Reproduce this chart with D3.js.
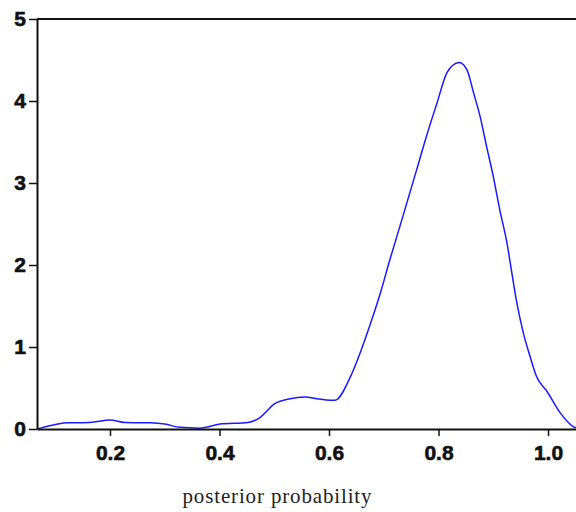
<!DOCTYPE html>
<html>
<head>
<meta charset="utf-8">
<script src="https://cdn.jsdelivr.net/npm/d3@7"></script>
<style>
  html, body { margin: 0; padding: 0; background: #fff; }
  svg { display: block; }
</style>
</head>
<body>
<svg id="chart" width="576" height="512"></svg>
<script>
// density of posterior probability
const probs = [0.0667, 0.09, 0.121, 0.163, 0.2, 0.227, 0.273, 0.3, 0.328, 0.364, 0.401, 0.452,
  0.474, 0.501, 0.529, 0.556, 0.578, 0.602, 0.611, 0.638, 0.657, 0.675, 0.693, 0.711, 0.733,
  0.76, 0.778, 0.797, 0.815, 0.825, 0.838, 0.852, 0.864, 0.876, 0.888, 0.9, 0.912, 0.925,
  0.934, 0.943, 0.955, 0.967, 0.979, 0.998, 1.022, 1.046, 1.06]
const density = [0.0, 0.04, 0.075, 0.08, 0.11, 0.08, 0.075, 0.06, 0.02, 0.01, 0.06, 0.08,
  0.14, 0.31, 0.37, 0.39, 0.37, 0.35, 0.35, 0.62, 0.93, 1.27, 1.64, 2.06, 2.55,
  3.16, 3.57, 3.97, 4.34, 4.43, 4.47, 4.38, 4.1, 3.81, 3.44, 3.08, 2.67, 2.27,
  1.9, 1.54, 1.17, 0.89, 0.64, 0.46, 0.2, 0.03, 0.0]
const xTicks = [0.2, 0.4, 0.6, 0.8, 1.0]
const yTicks = [0, 1, 2, 3, 4, 5]

const data = probs.map((p, i) => ({ x: p, y: density[i] }))

const svg = d3.select("#chart")
const margin = { top: 19, right: 0, bottom: 83, left: 37 }
const width = 576, height = 512

const xScale = d3.scaleLinear()
  .domain([0.0667, 1.0511])
  .range([margin.left, width - margin.right])

const yScale = d3.scaleLinear()
  .domain([0, 5])
  .range([height - margin.bottom, margin.top])

svg.append("defs").append("clipPath").attr("id", "plot")
  .append("rect")
  .attr("x", margin.left).attr("y", margin.top - 2)
  .attr("width", width - margin.left).attr("height", height - margin.bottom - margin.top + 2)

const line = d3.line()
  .x(d => xScale(d.x))
  .y(d => yScale(d.y))
  .curve(d3.curveMonotoneX)

svg.append("path")
  .datum(data)
  .attr("clip-path", "url(#plot)")
  .attr("fill", "none")
  .attr("stroke", "#1a1aff")
  .attr("stroke-width", 1.5)
  .attr("d", line)

// frame top
svg.append("line")
  .attr("x1", margin.left).attr("x2", width)
  .attr("y1", yScale(5)).attr("y2", yScale(5))
  .attr("stroke", "#111").attr("stroke-width", 2)

const xAxis = g => g
  .attr("transform", `translate(0,${yScale(0)})`)
  .call(d3.axisBottom(xScale).tickValues(xTicks).tickFormat(d3.format(".1f")).tickSize(7).tickPadding(9).tickSizeOuter(0))
  .call(g => g.select(".domain").attr("stroke", "#111").attr("stroke-width", 2))
  .call(g => g.selectAll(".tick line").attr("stroke", "#111").attr("stroke-width", 1.5))

const yAxis = g => g
  .attr("transform", `translate(${margin.left},0)`)
  .call(d3.axisLeft(yScale).tickValues(yTicks).tickFormat(d3.format("d")).tickSize(8).tickPadding(3).tickSizeOuter(0))
  .call(g => g.select(".domain").attr("stroke", "#111").attr("stroke-width", 2))
  .call(g => g.selectAll(".tick line").attr("stroke", "#111").attr("stroke-width", 1.5))

svg.append("g").call(xAxis)
svg.append("g").call(yAxis)

svg.selectAll(".tick text")
  .attr("font-family", "Liberation Sans, Arial, sans-serif")
  .attr("font-weight", "bold")
  .attr("font-size", 21)
  .attr("fill", "#111")
  .attr("stroke", "#111")
  .attr("stroke-width", 0.6)

svg.append("text")
  .attr("x", 277)
  .attr("y", 503)
  .attr("text-anchor", "middle")
  .attr("font-family", "Liberation Serif, Times New Roman, serif")
  .attr("font-size", 21)
  .attr("textLength", 189)
  .attr("fill", "#222")
  .text("posterior probability")
</script>
</body>
</html>
